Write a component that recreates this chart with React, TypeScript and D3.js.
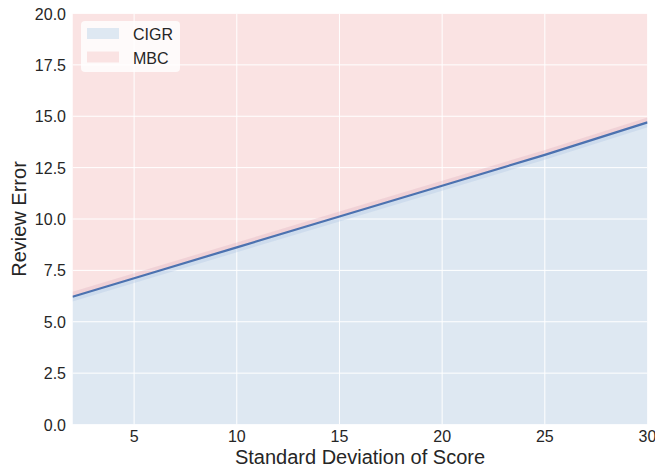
import React from "react";
import * as d3 from "d3";

const sdScore = [2, 5, 10, 15, 20, 25, 30];
const reviewError = [6.22, 7.12, 8.62, 10.12, 11.62, 13.12, 14.7];
const bandHalf = [0.12, 0.12, 0.12, 0.12, 0.12, 0.12, 0.12];
const xTicks = [5, 10, 15, 20, 25, 30];
const yTicks = [0, 2.5, 5, 7.5, 10, 12.5, 15, 17.5, 20];
const legendLabels = ["CIGR", "MBC"];

const W = 655, H = 471;
const M = { left: 72.5, right: 647.5, top: 13.5, bottom: 424.5 };
const FONT = "'Liberation Sans', Arial, sans-serif";
const BLUE_FILL = "#dee8f2";
const PINK_FILL = "#fae3e3";
const LINE = "#4c72b0";
const TXT = "#262626";

export default function App() {
  const x = d3.scaleLinear().domain([2, 30]).range([M.left, M.right]);
  const y = d3.scaleLinear().domain([0, 20]).range([M.bottom, M.top]);
  const pts = sdScore.map((s, i) => ({ s, v: reviewError[i], b: bandHalf[i] }));

  const below = d3.area<any>().x(d => x(d.s)).y0(y(0)).y1(d => y(d.v))(pts) || "";
  const above = d3.area<any>().x(d => x(d.s)).y0(y(20)).y1(d => y(d.v))(pts) || "";
  const bandUp = d3.area<any>().x(d => x(d.s)).y0(d => y(d.v)).y1(d => y(d.v + d.b * 2))(pts) || "";
  const bandDown = d3.area<any>().x(d => x(d.s)).y0(d => y(d.v)).y1(d => y(d.v - d.b * 2))(pts) || "";
  const line = d3.line<any>().x(d => x(d.s)).y(d => y(d.v))(pts) || "";

  return (
    <div style={{ position: "fixed", left: 0, top: 0 }}>
      <svg width={W} height={H} style={{ display: "block", background: "#fff" }}>
        <defs>
          <clipPath id="plot">
            <rect x={M.left} y={M.top} width={M.right - M.left} height={M.bottom - M.top} />
          </clipPath>
        </defs>
        <g clipPath="url(#plot)">
          <path d={above} fill={PINK_FILL} />
          <path d={below} fill={BLUE_FILL} />
          {xTicks.map(t => (
            <line key={"gx" + t} x1={x(t)} x2={x(t)} y1={M.top} y2={M.bottom} stroke="#fff" strokeWidth={1} />
          ))}
          {yTicks.map(t => (
            <line key={"gy" + t} x1={M.left} x2={M.right} y1={y(t)} y2={y(t)} stroke="#fff" strokeWidth={1} />
          ))}
          <path d={bandUp} fill="#d9a9b8" opacity={0.3} />
          <path d={bandDown} fill="#a9c0e0" opacity={0.3} />
          <path d={line} fill="none" stroke={LINE} strokeWidth={2.2} />
        </g>
        {xTicks.map(t => (
          <text key={"tx" + t} x={x(t)} y={442} textAnchor="middle" fontFamily={FONT} fontSize={16} fill={TXT}>
            {t}
          </text>
        ))}
        {yTicks.map(t => (
          <text key={"ty" + t} x={66} y={y(t) + 6} textAnchor="end" fontFamily={FONT} fontSize={16} fill={TXT}>
            {t.toFixed(1)}
          </text>
        ))}
        <text x={(M.left + M.right) / 2} y={464} textAnchor="middle" fontFamily={FONT} fontSize={20} fill={TXT}>
          Standard Deviation of Score
        </text>
        <text
          transform={`translate(26,${(M.top + M.bottom) / 2}) rotate(-90)`}
          textAnchor="middle"
          fontFamily={FONT}
          fontSize={20}
          fill={TXT}
        >
          Review Error
        </text>
        <g>
          <rect x={81} y={21} width={99} height={51} rx={4} fill="#fff" fillOpacity={0.8} />
          {legendLabels.map((l, i) => (
            <g key={l}>
              <rect x={87} y={28 + i * 23.5} width={32} height={11} fill={i === 0 ? BLUE_FILL : PINK_FILL} />
              <text x={133} y={40 + i * 23.5} fontFamily={FONT} fontSize={16} fill={TXT}>
                {l}
              </text>
            </g>
          ))}
        </g>
      </svg>
    </div>
  );
}
